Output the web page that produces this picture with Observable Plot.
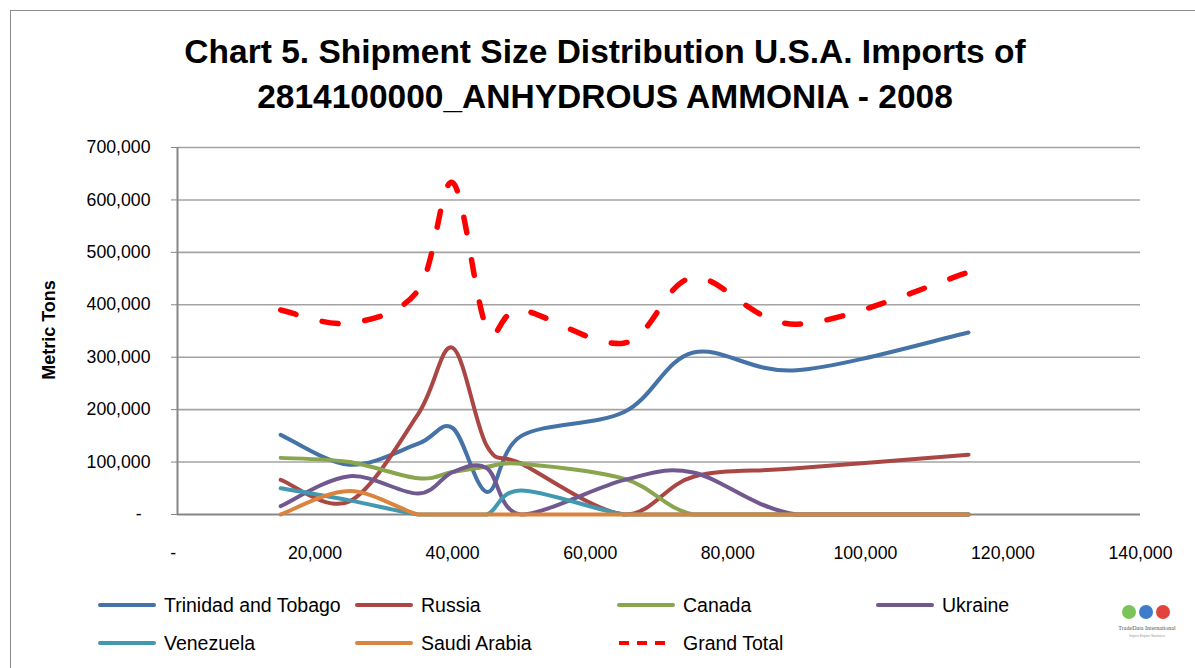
<!DOCTYPE html>
<html>
<head>
<meta charset="utf-8">
<script src="https://cdn.jsdelivr.net/npm/d3@7"></script>
<script src="https://cdn.jsdelivr.net/npm/@observablehq/plot@0.6"></script>
<style>
  html, body { margin: 0; padding: 0; background: #fff; }
  body { width: 1195px; height: 668px; position: relative; overflow: hidden; font-family: "Liberation Sans", Arial, sans-serif; }
  #frame { position: absolute; left: 10px; top: 10px; width: 1250px; height: 720px; border: 1.5px solid #8c8c8c; box-sizing: border-box; }
  .title { position: absolute; left: 0; width: 1210px; text-align: center; font-weight: bold; font-size: 33.5px; color: #000; line-height: 1; }
  #ytitle { position: absolute; left: 49px; top: 330px; transform: translate(-50%, -50%) rotate(-90deg); font-weight: bold; font-size: 18px; white-space: nowrap; }
  #chart { position: absolute; left: 0; top: 130px; }
  .leg { position: absolute; display: flex; align-items: center; font-size: 19.5px; white-space: nowrap; }
  .leg svg { margin-right: 8px; }
  #logo { position: absolute; left: 1112px; top: 600px; }
</style>
</head>
<body>
<div id="frame"></div>
<div class="title" style="top:35px">Chart 5. Shipment Size Distribution U.S.A. Imports of</div>
<div class="title" style="top:80px">2814100000_ANHYDROUS AMMONIA - 2008</div>
<div id="ytitle">Metric Tons</div>
<div id="chart"></div>
<div id="legend"></div>
<svg id="logo" width="70" height="45">
  <circle cx="17" cy="12" r="7" fill="#7cc35a"/>
  <circle cx="34" cy="12" r="7" fill="#3d7cc9"/>
  <circle cx="51" cy="12" r="7" fill="#e0443c"/>
  <text x="35" y="30" text-anchor="middle" font-size="6" fill="#555" font-family="Liberation Serif">TradeData International</text>
  <text x="35" y="37" text-anchor="middle" font-size="3.5" fill="#999">Import Export Statistics</text>
</svg>
<script>
// ---- Data ----
const shipmentSizes = [15000, 25000, 35000, 40000, 45000, 50000, 65000, 75000, 90000, 115000];
const trinidadAndTobago = [152000, 95000, 135000, 165000, 43000, 150000, 196000, 309000, 275000, 347000];
const russia = [66000, 25000, 192000, 318000, 130000, 97000, 0, 72000, 88000, 114000];
const canada = [108000, 100000, 69000, 81000, 91000, 97000, 68000, 0, 0, 0];
const ukraine = [16000, 73000, 40000, 81000, 88000, 0, 66000, 80000, 0, 0];
const venezuela = [50000, 27000, 0, 0, 0, 46000, 0, 0, 0, 0];
const saudiArabia = [0, 45000, 0, 0, 0, 0, 0, 0, 0, 0];
const grandTotal = [390000, 365000, 428000, 633000, 355000, 390000, 327000, 452000, 363000, 462000];

const seriesNames = ["Trinidad and Tobago", "Russia", "Canada", "Ukraine", "Venezuela", "Saudi Arabia", "Grand Total"];
const seriesValues = [trinidadAndTobago, russia, canada, ukraine, venezuela, saudiArabia, grandTotal];
const seriesColors = ["#4572A7", "#AA4643", "#89A54E", "#71588F", "#4198AF", "#DB843D", "#FF0000"];

const xTicks = [0, 20000, 40000, 60000, 80000, 100000, 120000, 140000];
const yTicks = [0, 100000, 200000, 300000, 400000, 500000, 600000, 700000];

const fmt = d3.format(",");
const tickFmt = d => d === 0 ? "-\u2002" : fmt(d);

const W = 1195, H = 440, MT = 17, MB = 56, ML = 177, MR = 55;
const baseY = H - MB; // pixel row of the zero baseline

// Excel-like smoothed line: Catmull-Rom Bezier (1/6 tangents), control points kept above the zero baseline
function excelSmooth(context) {
  return {
    _pts: [],
    areaStart() {}, areaEnd() {},
    lineStart() { this._pts = []; },
    point(x, y) { this._pts.push([+x, +y]); },
    lineEnd() {
      const p = this._pts, n = p.length;
      if (!n) return;
      context.moveTo(p[0][0], p[0][1]);
      for (let i = 0; i < n - 1; i++) {
        const p0 = p[i - 1] || p[i], p1 = p[i], p2 = p[i + 1], p3 = p[i + 2] || p[i + 1];
        const c1x = p1[0] + (p2[0] - p0[0]) / 6, c1y = Math.min(baseY, p1[1] + (p2[1] - p0[1]) / 6);
        const c2x = p2[0] - (p3[0] - p1[0]) / 6, c2y = Math.min(baseY, p2[1] - (p3[1] - p1[1]) / 6);
        context.bezierCurveTo(c1x, c1y, c2x, c2y, p2[0], p2[1]);
      }
    }
  };
}

const rows = seriesNames.flatMap((name, i) =>
  shipmentSizes.map((x, j) => ({series: name, x, y: seriesValues[i][j]})));

const lineMarks = seriesNames.map((name, i) => {
  const isTotal = name === "Grand Total";
  return Plot.line(rows.filter(r => r.series === name), {
    x: "x", y: "y",
    curve: excelSmooth,
    stroke: seriesColors[i],
    strokeWidth: isTotal ? 5.5 : 4,
    strokeDasharray: isTotal ? "16,27" : null,
    strokeLinecap: "round",
    strokeLinejoin: "round"
  });
});

const chart = Plot.plot({
  width: W,
  height: H,
  marginLeft: ML,
  marginRight: MR,
  marginTop: MT,
  marginBottom: MB,
  style: {fontFamily: "'Liberation Sans', Arial, sans-serif", fontSize: "17.7px", color: "#000", background: "transparent"},
  x: {domain: [0, 140000]},
  y: {domain: [0, 700000]},
  marks: [
    Plot.gridY(yTicks.filter(d => d > 0), {stroke: "#a3a3a3", strokeOpacity: 1, strokeWidth: 1.6}),
    Plot.axisY({ticks: yTicks, tickFormat: tickFmt, tickSize: 6, tickPadding: 21, stroke: "#868686", fill: "#000", label: null}),
    Plot.axisX({ticks: xTicks, tickFormat: tickFmt, tickSize: 0, tickPadding: 32, fill: "#000", label: null}),
    Plot.ruleX([0], {stroke: "#868686", strokeWidth: 2}),
    Plot.ruleY([0], {stroke: "#868686", strokeWidth: 2}),
    ...lineMarks
  ]
});
document.getElementById("chart").appendChild(chart);

// ---- Legend ----
const legendPos = [
  [98, 605], [355, 605], [617, 605], [876, 605],
  [98, 643], [355, 643], [617, 643]
];
const legend = document.getElementById("legend");
seriesNames.forEach((name, i) => {
  const [lx, ly] = legendPos[i];
  const isTotal = name === "Grand Total";
  const item = document.createElement("div");
  item.className = "leg";
  item.style.left = lx + "px";
  item.style.top = (ly - 13) + "px";
  item.style.height = "26px";
  item.innerHTML = `<svg width="58" height="10"><line x1="2" y1="5" x2="56" y2="5" stroke="${seriesColors[i]}" stroke-width="4" ${isTotal ? 'stroke-dasharray="10,8"' : ''} stroke-linecap="${isTotal ? 'butt' : 'round'}"/></svg><span>${name}</span>`;
  legend.appendChild(item);
});
</script>
</body>
</html>
